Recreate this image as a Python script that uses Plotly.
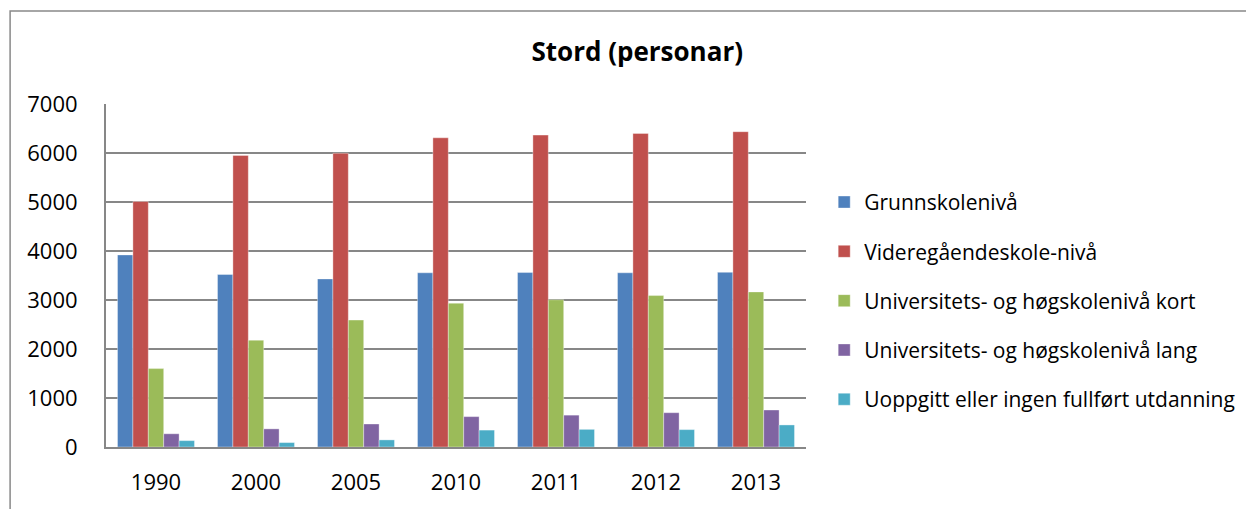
import plotly.graph_objects as go

years = ["1990", "2000", "2005", "2010", "2011", "2012", "2013"]
grunnskole = [3920, 3520, 3430, 3555, 3560, 3555, 3565]
videregaande = [5010, 5950, 5995, 6310, 6365, 6400, 6435]
uni_kort = [1600, 2180, 2590, 2935, 3005, 3090, 3165]
uni_lang = [270, 370, 470, 620, 650, 700, 755]
uoppgitt = [130, 90, 145, 345, 360, 355, 450]

series_names = [
    "Grunnskolenivå",
    "Videregåendeskole-nivå",
    "Universitets- og høgskolenivå kort",
    "Universitets- og høgskolenivå lang",
    "Uoppgitt eller ingen fullført utdanning",
]
series_values = [grunnskole, videregaande, uni_kort, uni_lang, uoppgitt]
colors = ["#4F81BD", "#C0504D", "#9BBB59", "#8064A2", "#4BACC6"]

FONT = "'Open Sans', sans-serif"

fig = go.Figure()
for i, (name, vals, col) in enumerate(zip(series_names, series_values, colors)):
    fig.add_trace(go.Bar(
        x=years, y=vals, name=name, legendgroup=str(i),
        marker=dict(color=col, line=dict(color="rgba(255,255,255,0.6)", width=0.6)),
    ))

grid = "#878787"
fig.update_layout(
    width=1246, height=501,
    margin=dict(l=98, r=448, t=96, b=62),
    paper_bgcolor="white", plot_bgcolor="white",
    barmode="group", bargap=0.23, bargroupgap=0,
    font=dict(family=FONT, size=22, color="black"),
    title=dict(text="<b>Stord (personar)</b>", x=0.505, xanchor="center",
               y=0.912, yanchor="middle", font=dict(family=FONT, size=26, color="black")),
    showlegend=True,
    legend=dict(x=1.026, xanchor="left", y=0.426, yanchor="middle",
                font=dict(family=FONT, size=21), tracegroupgap=19,
                bgcolor="rgba(0,0,0,0)", itemwidth=30),
    xaxis=dict(showline=True, linecolor=grid, linewidth=2, ticks="", showgrid=False,
               tickfont=dict(size=22), ticklabelstandoff=15),
    yaxis=dict(range=[0, 7000], dtick=1000, showgrid=True, gridcolor=grid, gridwidth=1.5,
               showline=True, linecolor=grid, linewidth=2, ticks="", zeroline=False,
               tickfont=dict(size=22), ticklabelstandoff=22),
    shapes=[dict(type="rect", xref="paper", yref="paper", x0=-0.137, x1=1.7,
                 y0=-0.3, y1=1.271, line=dict(color="#898989", width=1.5),
                 fillcolor="rgba(0,0,0,0)", layer="below")],
)

fig.write_html("out.html")
